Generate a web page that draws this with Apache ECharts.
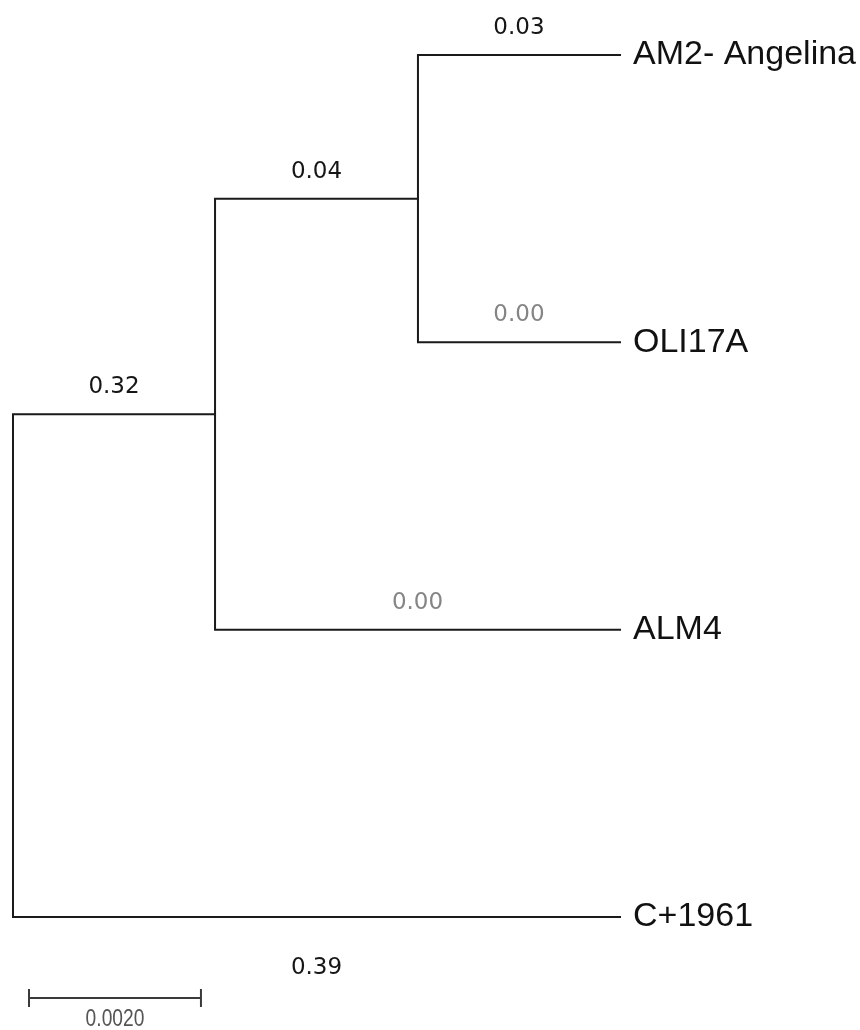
<!DOCTYPE html>
<html><head><meta charset="utf-8">
<script src="https://cdn.jsdelivr.net/npm/echarts@6/dist/echarts.min.js"></script>
<style>html,body{margin:0;padding:0;background:#fff}#c{width:860px;height:1030px}</style>
</head><body><div id="c"></div>
<script>
// Tree data (parent/child with branch lengths)
const nodeNames     = ['root', 'n1', 'n2', 'AM2- Angelina', 'OLI17A', 'ALM4', 'C+1961'];
const parentNames   = [null, 'root', 'n1', 'n2', 'n2', 'n1', 'root'];
const branchLengths = [0, 0.00235, 0.00236, 0.00235, 0.00235, 0.00471, 0.00706];
const branchLabels  = ['', '0.32', '0.04', '0.03', '0.00', '0.00', '0.39'];
const labelMuted    = [false, false, false, false, true, true, false];
const labelBelow    = [false, false, false, false, false, false, true];
const leafOrder     = ['AM2- Angelina', 'OLI17A', 'ALM4', 'C+1961'];
const scaleBarLength = 0.002;
const scaleBarLabel  = '0.0020';

// compute node depth (x) and row (y)
const idxOf = n => nodeNames.indexOf(n);
const depth = {}, row = {};
function getDepth(i) {
  const n = nodeNames[i];
  if (depth[n] !== undefined) return depth[n];
  const p = parentNames[i];
  depth[n] = p === null ? 0 : getDepth(idxOf(p)) + branchLengths[i];
  return depth[n];
}
function getRow(i) {
  const n = nodeNames[i];
  if (row[n] !== undefined) return row[n];
  const li = leafOrder.indexOf(n);
  if (li >= 0) { row[n] = li; return li; }
  const kids = nodeNames.map((m, j) => j).filter(j => parentNames[j] === n);
  row[n] = kids.reduce((s, j) => s + getRow(j), 0) / kids.length;
  return row[n];
}
nodeNames.forEach((n, i) => { getDepth(i); getRow(i); });
const maxDepth = Math.max(...nodeNames.map(n => depth[n]));

const branchData = [];
nodeNames.forEach((n, i) => {
  const p = parentNames[i];
  if (p === null) return;
  branchData.push([depth[p], row[p], depth[n], row[n], i]);
});

const LINE = '#1a1a1a';
const chart = echarts.init(document.getElementById('c'), null, {renderer: 'canvas'});
chart.setOption({
  animation: false,
  backgroundColor: '#ffffff',
  grid: {left: 13, right: 240, top: 55, bottom: 113, containLabel: false},
  xAxis: {type: 'value', min: 0, max: maxDepth, show: false},
  yAxis: {type: 'value', min: 0, max: leafOrder.length - 1, inverse: true, show: false},
  series: [
    {
      type: 'custom',
      clip: false,
      data: branchData,
      renderItem: function (params, api) {
        const p = api.coord([api.value(0), api.value(1)]);
        const c = api.coord([api.value(2), api.value(3)]);
        const i = api.value(4);
        const els = [{
          type: 'polyline',
          shape: {points: [[p[0], p[1]], [p[0], c[1]], [c[0], c[1]]]},
          style: {stroke: LINE, lineWidth: 2, fill: null, lineJoin: 'miter', lineCap: 'square'}
        }];
        if (branchLabels[i]) {
          els.push({
            type: 'text',
            x: (p[0] + c[0]) / 2,
            y: labelBelow[i] ? c[1] + 51 : c[1] - 27,
            style: {
              text: branchLabels[i],
              font: '23px "DejaVu Sans", Verdana, sans-serif',
              fill: labelMuted[i] ? '#858585' : '#161616',
              align: 'center', verticalAlign: 'middle'
            }
          });
        }
        if (leafOrder.indexOf(nodeNames[i]) >= 0) {
          els.push({
            type: 'text',
            x: c[0] + 13,
            y: c[1],
            style: {
              text: nodeNames[i],
              font: '34px "Liberation Sans", Arial, sans-serif',
              fill: '#111111',
              align: 'left', verticalAlign: 'middle'
            }
          });
        }
        return {type: 'group', children: els};
      }
    },
    {
      type: 'custom',
      clip: false,
      data: [[scaleBarLength]],
      renderItem: function (params, api) {
        const o = api.coord([0, leafOrder.length - 1]);
        const len = api.size([api.value(0), 0])[0];
        const x0 = o[0] + 16, y0 = o[1] + 81;
        const st = {stroke: '#3a3a3a', lineWidth: 2};
        return {type: 'group', children: [
          {type: 'line', shape: {x1: x0, y1: y0, x2: x0 + len, y2: y0}, style: st},
          {type: 'line', shape: {x1: x0, y1: y0 - 9, x2: x0, y2: y0 + 9}, style: st},
          {type: 'line', shape: {x1: x0 + len, y1: y0 - 9, x2: x0 + len, y2: y0 + 9}, style: st},
          {type: 'text', x: x0 + len / 2, y: y0 + 21, scaleX: 0.8, style: {
            text: scaleBarLabel,
            font: '24px "Liberation Sans", Arial, sans-serif',
            fill: '#555555', align: 'center', verticalAlign: 'middle'}}
        ]};
      }
    }
  ]
});
</script>
</body></html>
